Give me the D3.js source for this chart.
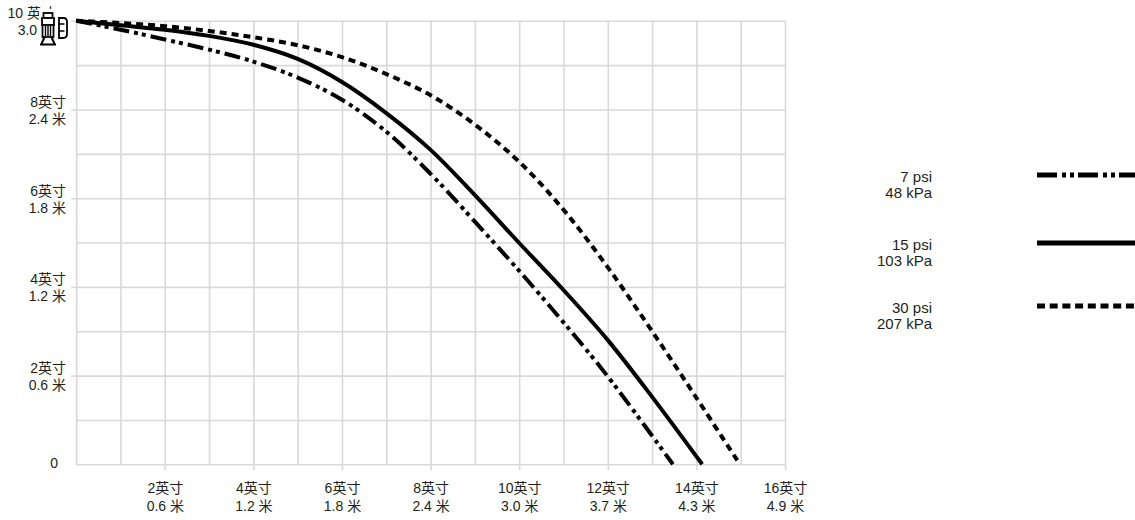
<!DOCTYPE html>
<html>
<head>
<meta charset="utf-8">
<script src="https://cdn.jsdelivr.net/npm/d3@7"></script>
<style>
  body { margin: 0; background: #fff; }
  svg text { font-family: "Liberation Sans", "Noto Sans CJK SC", sans-serif; fill: #231f20; }
  .grid line { stroke: #d9d9d9; stroke-width: 1.6; }
  .grid path, .axis path { display: none; }
  .axis line { stroke: #d9d9d9; stroke-width: 1.6; }
</style>
</head>
<body>
<script>
// axis labels
const xTicks = [2, 4, 6, 8, 10, 12, 14, 16];
const xFeet = ["2英寸", "4英寸", "6英寸", "8英寸", "10英寸", "12英寸", "14英寸", "16英寸"];
const xMeters = ["0.6 米", "1.2 米", "1.8 米", "2.4 米", "3.0 米", "3.7 米", "4.3 米", "4.9 米"];
const yTicks = [2, 4, 6, 8, 10];
const yFeet = ["2英寸", "4英寸", "6英寸", "8英寸", "10 英寸"];
const yMeters = ["0.6 米", "1.2 米", "1.8 米", "2.4 米", "3.0 米"];

// spray profiles: distance (ft) / height (ft)
const psi7X = [0, 1, 2, 3, 4, 5, 6, 7, 8, 9, 10, 11, 12, 13.47];
const psi7Y = [10, 9.80, 9.58, 9.35, 9.08, 8.72, 8.22, 7.50, 6.55, 5.47, 4.36, 3.20, 1.98, 0];
const psi15X = [0, 1, 2, 3, 4, 5, 6, 7, 8, 9, 10, 11, 12, 13, 14.13];
const psi15Y = [10, 9.90, 9.80, 9.66, 9.46, 9.14, 8.62, 7.92, 7.09, 6.07, 4.99, 3.93, 2.80, 1.52, 0];
const psi30X = [0, 1, 2, 3, 4, 5, 6, 7, 8, 9, 10, 11, 12, 13, 14, 14.98];
const psi30Y = [10, 9.95, 9.88, 9.77, 9.63, 9.45, 9.18, 8.80, 8.32, 7.66, 6.82, 5.74, 4.44, 3.00, 1.50, 0];

const legendPsi = ["7 psi", "15 psi", "30 psi"];
const legendKpa = ["48 kPa", "103 kPa", "207 kPa"];

const series = [
  {xs: psi7X, ys: psi7Y, dash: "16,5,4,4,4,5", legendDash: "20,5,4,4,4,4"},
  {xs: psi15X, ys: psi15Y, dash: null, legendDash: null},
  {xs: psi30X, ys: psi30Y, dash: "7,5", legendDash: "8,4.7"}
];

const width = 1135, height = 520;

const x = d3.scaleLinear().domain([0, 16]).range([76.2, 785]);
const y = d3.scaleLinear().domain([0, 10]).range([464.3, 20.8]);

const svg = d3.select('body').append('svg')
    .attr('width', width)
    .attr('height', height);

// grid
svg.append('g')
    .attr('class', 'grid')
    .attr('transform', 'translate(0,' + y(0) + ')')
    .call(d3.axisBottom(x).tickValues(d3.range(0, 17)).tickSize(y(10) - y(0)).tickFormat(''));

svg.append('g')
    .attr('class', 'grid')
    .attr('transform', 'translate(' + x(0) + ',0)')
    .call(d3.axisRight(y).tickValues(d3.range(0, 11)).tickSize(x(16) - x(0)).tickFormat(''));

// x axis ticks + two-line labels
const xAxis = svg.append('g')
    .attr('class', 'axis')
    .attr('transform', 'translate(0,' + y(0) + ')')
    .call(d3.axisBottom(x).tickValues(xTicks).tickSize(6).tickFormat(''));

xAxis.selectAll('.tick').each(function(d, i) {
    const t = d3.select(this).append('text')
        .attr('text-anchor', 'middle')
        .attr('font-size', '14px');
    t.append('tspan').attr('x', 0).attr('y', 29).text(xFeet[i]);
    t.append('tspan').attr('x', 0).attr('y', 47).text(xMeters[i]);
});

// y axis ticks + labels
const yAxis = svg.append('g')
    .attr('class', 'axis')
    .attr('transform', 'translate(' + x(0) + ',0)')
    .call(d3.axisLeft(y).tickValues(yTicks).tickSize(5).tickFormat(''));

yAxis.selectAll('.tick').each(function(d, i) {
    const lx = d === 10 ? 55 - x(0) : 66 - x(0); // top label runs under the icon
    const t = d3.select(this).append('text')
        .attr('text-anchor', 'end')
        .attr('font-size', '14px');
    t.append('tspan').attr('x', lx).attr('y', -3).text(yFeet[i]);
    t.append('tspan').attr('x', lx).attr('y', 14).text(yMeters[i]);
});

svg.append('text')
    .attr('x', 58)
    .attr('y', y(0) + 4)
    .attr('text-anchor', 'end')
    .attr('font-size', '14px')
    .text('0');

// curves
const line = d3.line()
    .x(d => x(d[0]))
    .y(d => y(d[1]))
    .curve(d3.curveCatmullRom.alpha(0.5));

svg.selectAll('path.spray')
    .data(series)
    .enter().append('path')
    .attr('class', 'spray')
    .attr('fill', 'none')
    .attr('stroke', '#000')
    .attr('stroke-width', 4)
    .attr('stroke-dasharray', d => d.dash)
    .attr('d', d => line(d.xs.map((v, i) => [v, d.ys[i]])));

// legend
const legendRows = [175, 243, 306];
const legend = svg.selectAll('g.legend')
    .data(series)
    .enter().append('g')
    .attr('class', 'legend')
    .attr('transform', (d, i) => 'translate(0,' + legendRows[i] + ')');

legend.append('line')
    .attr('x1', 1037).attr('x2', 1140)
    .attr('y1', 0).attr('y2', 0)
    .attr('stroke', '#000')
    .attr('stroke-width', 5)
    .attr('stroke-dasharray', d => d.legendDash);

const lt = legend.append('text')
    .attr('text-anchor', 'end')
    .attr('font-size', '15px');
lt.append('tspan').attr('x', 932).attr('y', 7).text((d, i) => legendPsi[i]);
lt.append('tspan').attr('x', 932).attr('y', 23).text((d, i) => legendKpa[i]);

// sprinkler icon over the top-left label
const icon = svg.append('g')
    .attr('fill', '#fff')
    .attr('stroke', '#000')
    .attr('stroke-width', 1.8);
icon.append('rect').attr('x', 39).attr('y', 9).attr('width', 32).attr('height', 39).attr('stroke', 'none');
icon.append('rect').attr('x', 43.5).attr('y', 13).attr('width', 9).attr('height', 5);
icon.append('rect').attr('x', 42).attr('y', 18).attr('width', 12).attr('height', 7);
icon.append('rect').attr('x', 42.5).attr('y', 25).attr('width', 11).attr('height', 12);
icon.append('path').attr('d', 'M45.5,26V36M48,26V36M50.5,26V36').attr('fill', 'none').attr('stroke-width', 1.4);
icon.append('path').attr('d', 'M44.5,37L41.5,44M51.5,37L54.5,44M40,44.5H56').attr('fill', 'none').attr('stroke-width', 2);
icon.append('path').attr('d', 'M59,18H63.5Q67,18 67,22V34Q67,38 63,38H59Z');
icon.append('path').attr('d', 'M59,24H64.5M59,31H64.5').attr('fill', 'none').attr('stroke-width', 1.4);
</script>
</body>
</html>
